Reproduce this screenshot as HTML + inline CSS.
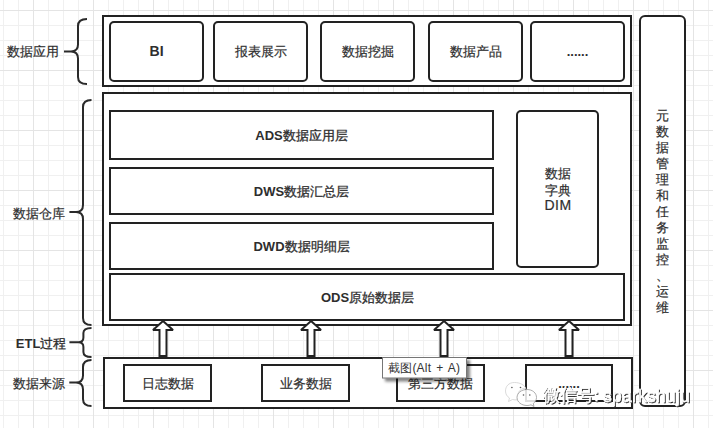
<!DOCTYPE html>
<html><head><meta charset="utf-8">
<style>
html,body{margin:0;padding:0;background:#fff;}
body{width:713px;height:428px;overflow:hidden;position:relative;font-family:"Liberation Sans",sans-serif;}
svg{position:absolute;left:0;top:0;}
.t{font-family:"Liberation Sans",sans-serif;font-size:13px;fill:#2e2e2e;stroke:#2e2e2e;stroke-width:0.2;}
.b{font-weight:bold;stroke-width:0;}
.m{font-weight:500;stroke-width:0.3;}
</style></head><body>
<svg width="713" height="428" viewBox="0 0 713 428">
<defs>
<pattern id="grid" x="33" y="10" width="60" height="60" patternUnits="userSpaceOnUse">
<rect x="15" y="0" width="1" height="60" fill="#f0f0f0"/>
<rect x="30" y="0" width="1" height="60" fill="#f0f0f0"/>
<rect x="45" y="0" width="1" height="60" fill="#f0f0f0"/>
<rect x="0" y="15" width="60" height="1" fill="#f0f0f0"/>
<rect x="0" y="30" width="60" height="1" fill="#f0f0f0"/>
<rect x="0" y="45" width="60" height="1" fill="#f0f0f0"/>
<rect x="0" y="0" width="1" height="60" fill="#e4e4e4"/>
<rect x="0" y="0" width="60" height="1" fill="#e4e4e4"/>
</pattern>
</defs>
<rect x="0" y="0" width="713" height="428" fill="url(#grid)"/>

<g fill="#fff" stroke="#222" stroke-width="2" shape-rendering="crispEdges">
<!-- top -->
<rect x="103" y="16" width="528" height="70"/>
<!-- middle -->
<rect x="103" y="93" width="528" height="232"/>
<rect x="110" y="111" width="383" height="48"/>
<rect x="110" y="168" width="383" height="46"/>
<rect x="110" y="223" width="383" height="46"/>
<rect x="110" y="274" width="514" height="46"/>
<!-- bottom -->
<rect x="104" y="358" width="528" height="50"/>
<rect x="124" y="365" width="87" height="36"/>
<rect x="262" y="365" width="87" height="36"/>
<rect x="397" y="365" width="87" height="36"/>
<rect x="526" y="365" width="86" height="36"/>
</g>
<g fill="#fff" stroke="#222" stroke-width="2">
<rect x="110" y="22" width="93" height="59" rx="4"/>
<rect x="214" y="22" width="93" height="59" rx="4"/>
<rect x="321" y="22" width="93" height="59" rx="4"/>
<rect x="429" y="22" width="93" height="59" rx="4"/>
<rect x="531" y="22" width="93" height="59" rx="4"/>
<rect x="517" y="111" width="81" height="156" rx="4"/>
<rect x="640" y="16" width="45" height="390" rx="5"/>
</g>

<!-- arrows -->
<g fill="#fff" stroke="#222" stroke-width="2" stroke-linejoin="miter" stroke-miterlimit="2">
<path d="M163,321 L173,330 L166.5,330 L166.5,356 L159.5,356 L159.5,330 L153,330 Z"/>
<path d="M311,321 L321,330 L314.5,330 L314.5,356 L307.5,356 L307.5,330 L301,330 Z"/>
<path d="M444,321 L454,330 L447.5,330 L447.5,356 L440.5,356 L440.5,330 L434,330 Z"/>
<path d="M569,321 L579,330 L572.5,330 L572.5,356 L565.5,356 L565.5,330 L559,330 Z"/>
</g>
<line x1="104" y1="358" x2="632" y2="358" stroke="#222" stroke-width="2" shape-rendering="crispEdges"/>

<!-- braces -->
<g fill="none" stroke="#2a2a2a" stroke-width="2">
<path d="M87,19 Q78,19 78,26 L78,44.5 Q78,51.4 71,51.4 L64,51.4 L71,51.4 Q78,51.4 78,58.4 L78,77 Q78,84 87,84"/>
<path d="M91.5,100 Q83,100 83,107 L83,205 Q83,212 76,212 L69.4,212 L76,212 Q83,212 83,219 L83,318 Q83,325 91.5,325"/>
<path d="M91.5,328 Q83.4,328 83.4,333 L83.4,337.5 Q83.4,342.3 78.4,342.3 L69.4,342.3 L78.4,342.3 Q83.4,342.3 83.4,347 L83.4,352 Q83.4,357 91.5,357"/>
<path d="M91.5,360 Q83,360 83,367 L83,375.6 Q83,382.6 76,382.6 L69.3,382.6 L76,382.6 Q83,382.6 83,389.6 L83,399 Q83,406 91.5,406"/>
</g>

<!-- labels -->
<g class="t" text-anchor="middle">
<text x="33.4" y="55.5">数据应用</text>
<text x="38.9" y="217.5">数据仓库</text>
<text x="41.1" y="348"><tspan class="b">ETL</tspan><tspan class="m">过程</tspan></text>
<text x="38.8" y="387.5">数据来源</text>

<text x="156.6" y="55.6" class="b" style="font-size:14px">BI</text>
<text x="260.5" y="55.5">报表展示</text>
<text x="367.5" y="55.5">数据挖掘</text>
<text x="475.5" y="55.5">数据产品</text>
<text x="577.5" y="55.5" class="b">......</text>

<text x="301.5" y="139.5"><tspan class="b">ADS</tspan><tspan class="m">数据应用层</tspan></text>
<text x="301.5" y="195.5"><tspan class="b">DWS</tspan><tspan class="m">数据汇总层</tspan></text>
<text x="301.5" y="250.5"><tspan class="b">DWD</tspan><tspan class="m">数据明细层</tspan></text>
<text x="367.5" y="301.5"><tspan class="b">ODS</tspan><tspan class="m">原始数据层</tspan></text>

<text x="557.5" y="177.5">数据</text>
<text x="557.5" y="194.5">字典</text>
<text x="558" y="209.9" style="font-size:14px;letter-spacing:0.5px">DIM</text>

<text x="168" y="387.5">日志数据</text>
<text x="305.5" y="387.5">业务数据</text>
<text x="440.5" y="387.5">第三方数据</text>
<text x="569" y="388" class="b">......</text>
</g>
<g class="t" text-anchor="middle">
<text x="662.5" y="120">元</text>
<text x="662.5" y="136">数</text>
<text x="662.5" y="152">据</text>
<text x="662.5" y="168">管</text>
<text x="662.5" y="184">理</text>
<text x="662.5" y="200">和</text>
<text x="662.5" y="216">任</text>
<text x="662.5" y="232">务</text>
<text x="662.5" y="248">监</text>
<text x="662.5" y="264">控</text>
<text x="662.5" y="280">、</text>
<text x="662.5" y="296">运</text>
<text x="662.5" y="312">维</text>
</g>

<!-- tooltip -->
<defs>
<filter id="sh" x="-10%" y="-20%" width="130%" height="160%">
<feGaussianBlur in="SourceAlpha" stdDeviation="1.6"/>
<feOffset dx="3" dy="3"/>
<feComponentTransfer><feFuncA type="linear" slope="0.5"/></feComponentTransfer>
<feMerge><feMergeNode/><feMergeNode in="SourceGraphic"/></feMerge>
</filter>
</defs>
<rect x="382.5" y="357.5" width="84" height="20.5" fill="#fff" stroke="#767676" stroke-width="1" filter="url(#sh)"/>
<text x="388" y="372" style="font-family:'Liberation Sans',sans-serif;font-size:12px;fill:#333;word-spacing:1.5px;letter-spacing:0.2px">截图(Alt + A)</text>
<!-- watermark -->
<defs>
<filter id="wsh" x="-5%" y="-20%" width="110%" height="140%">
<feOffset in="SourceAlpha" dx="0.7" dy="0.7" result="o"/>
<feFlood flood-color="#333"/>
<feComposite in2="o" operator="in"/>
<feMerge><feMergeNode/><feMergeNode in="SourceGraphic"/></feMerge>
</filter>
</defs>
<g filter="url(#wsh)" style="font-family:'Liberation Sans',sans-serif;font-size:17.5px;fill:#fff;stroke:#fff;stroke-width:0.3">
<text x="543" y="401" style="font-size:16.5px">微信号:</text>
<text x="603" y="402" textLength="87" lengthAdjust="spacing">sparkshuju</text>
</g>
<g stroke-width="0.8">
<path fill="#fff" fill-opacity="0.85" stroke="#d0d0d0" d="M514.5,382.5 C508.5,382.5 505.5,386.5 505.5,391 C505.5,394 507,396.5 509.5,398 L508.5,401.5 L512.5,399.5 C514,400 516,400 517.5,399.8 C517,390 522,388 526,388.5 C524.5,385 520,382.5 514.5,382.5 Z"/>
<path fill="#fff" fill-opacity="0.85" stroke="#999" d="M527,389.5 C521.5,389.5 517,393 517,397.5 C517,402 521.5,405.5 527,405.5 C528.5,405.5 529.8,405.3 531,404.8 L534,406.5 L533.3,403.5 C535.3,402 536.5,399.8 536.5,397.5 C536.5,393 532.5,389.5 527,389.5 Z"/>
</g>
<g fill="#555">
<circle cx="511.9" cy="387.5" r="0.8"/><circle cx="520.5" cy="387.5" r="0.8"/>
<circle cx="523.5" cy="395" r="0.8"/><circle cx="529.8" cy="395" r="0.8"/>
</g>
</svg>
</body></html>
